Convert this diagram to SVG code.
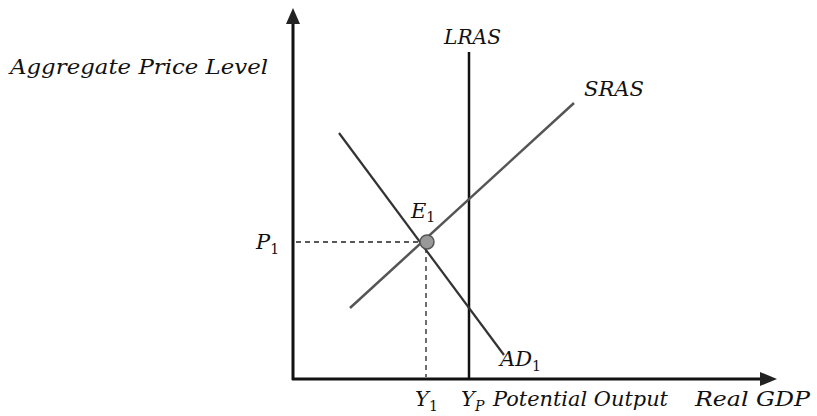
<svg xmlns="http://www.w3.org/2000/svg" width="817" height="416" viewBox="0 0 817 416">
<defs>
<style>
.t{font-family:"DejaVu Serif","Liberation Serif",serif;font-style:italic;font-size:21px;fill:#111}
.s{font-size:14px}
.ax{stroke:#111;stroke-width:3;fill:none}
.dash{stroke:#222;stroke-width:1.3;stroke-dasharray:5,4;fill:none}
</style>
</defs>
<rect width="817" height="416" fill="#fff"/>
<g id="connectors">
<line class="ax" x1="293" y1="380" x2="293" y2="20"/>
<path d="M286,24 L293,8 L300,24 z" fill="#222"/>
<line class="ax" x1="292" y1="379" x2="762" y2="379"/>
<path d="M760,372 L777,379 L760,386 z" fill="#222"/>
<line class="dash" x1="296" y1="242" x2="421" y2="242"/>
<line class="dash" x1="426" y1="248" x2="426" y2="377"/>
</g>
<g id="lras"><line x1="469" y1="52" x2="469" y2="379" stroke="#111" stroke-width="2.5"/>
<text class="t" x="444" y="44" textLength="57" lengthAdjust="spacingAndGlyphs">LRAS</text></g>
<g id="sras"><line x1="350" y1="308" x2="574" y2="103" stroke="#555" stroke-width="2.5"/>
<text class="t" x="584" y="96" textLength="60" lengthAdjust="spacingAndGlyphs">SRAS</text></g>
<g id="ad"><line x1="339" y1="133" x2="504" y2="355" stroke="#333" stroke-width="2.2"/>
<text class="t" x="500" y="366">AD<tspan class="s" dy="5" font-style="normal">1</tspan></text></g>
<g id="e1"><circle cx="427" cy="242" r="7" fill="#999" stroke="#555" stroke-width="1.5"/>
<text class="t" x="411" y="218">E<tspan class="s" dy="4" font-style="normal">1</tspan></text></g>
<g id="labels">
<text class="t" x="10" y="74" textLength="258" lengthAdjust="spacingAndGlyphs">Aggregate Price Level</text>
<text class="t" x="256" y="249">P<tspan class="s" dy="5" font-style="normal">1</tspan></text>
<text class="t" x="415" y="406">Y<tspan class="s" dy="5" font-style="normal">1</tspan></text>
<text class="t" x="461" y="406">Y<tspan class="s" dy="5">P</tspan></text>
<text class="t" x="493" y="406" textLength="175" lengthAdjust="spacingAndGlyphs">Potential Output</text>
<text class="t" x="695" y="406" textLength="115" lengthAdjust="spacingAndGlyphs">Real GDP</text>
</g>
</svg>
